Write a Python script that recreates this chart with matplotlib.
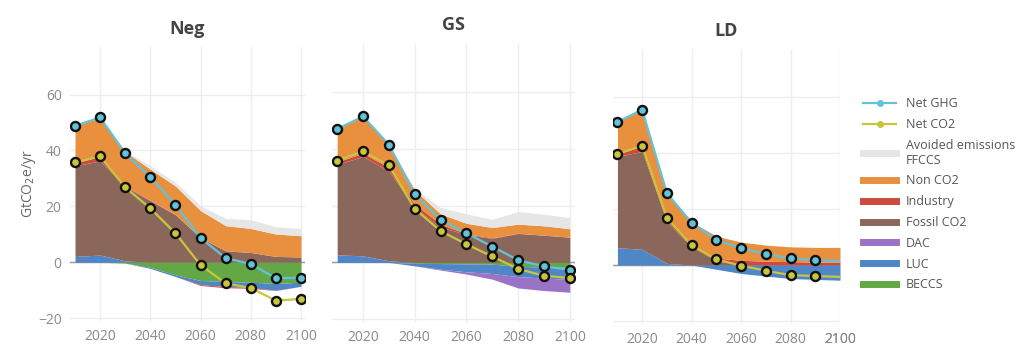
import numpy as np
import matplotlib.pyplot as plt
from matplotlib.lines import Line2D

plt.rcParams['font.family'] = ['Open Sans', 'DejaVu Sans']

years = [2010, 2020, 2030, 2040, 2050, 2060, 2070, 2080, 2090, 2100]
titles = ["Neg", "GS", "LD"]

# --- Neg scenario (GtCO2e/yr)
neg_luc = [2.1, 2.6, 0.5, -0.4, -0.6, -1.5, -1.8, -1.9, -2.4, -1.5]
neg_beccs = [0, 0, -0.3, -1.8, -4.5, -6.5, -6.9, -7.1, -7.6, -7.1]
neg_dac = [0, 0, 0, 0, 0, 0, 0, 0, 0, 0]
neg_fossil = [32.4, 33.7, 26.5, 22.0, 17.0, 8.8, 4.1, 3.5, 2.1, 1.9]
neg_industry = [1.2, 1.5, 0.3, 0.2, 0.1, -0.3, -0.4, -0.3, -0.1, 0]
neg_nonco2 = [13.1, 13.9, 12.2, 11.1, 10.2, 9.7, 9.0, 8.6, 8.0, 7.6]
neg_avoided = [0, 0, 0.3, 1.2, 1.3, 1.7, 2.6, 3.1, 2.6, 2.6]
neg_net_ghg = [48.8, 51.8, 39.0, 30.4, 20.6, 8.7, 1.5, -0.6, -5.7, -5.5]
neg_net_co2 = [35.7, 37.9, 26.8, 19.3, 10.4, -1.0, -7.5, -9.2, -13.7, -13.1]

# --- GS scenario
gs_luc = [2.7, 2.3, 0.6, -0.9, -2.0, -2.8, -3.3, -3.6, -3.9, -4.3]
gs_beccs = [0, 0, 0, -0.3, -0.4, -0.5, -0.6, -1.4, -1.6, -1.7]
gs_dac = [0, 0, 0, 0, -0.3, -0.8, -2.0, -4.0, -4.4, -4.5]
gs_fossil = [31.8, 35.1, 31.6, 19.3, 12.5, 9.8, 8.5, 10.2, 9.6, 8.9]
gs_industry = [1.0, 1.1, 1.3, 1.2, 1.0, 0.3, 0.2, 0.1, 0, 0]
gs_nonco2 = [11.5, 13.0, 8.0, 5.0, 3.6, 3.7, 3.6, 3.2, 3.3, 3.0]
gs_avoided = [0, 0, 0, 0.5, 2.3, 3.3, 2.9, 4.4, 4.1, 3.9]
gs_net_ghg = [47.0, 51.5, 41.5, 24.0, 15.0, 10.3, 5.6, 0.8, -1.4, -2.6]
gs_net_co2 = [35.9, 39.2, 34.2, 18.9, 11.1, 6.4, 2.1, -2.3, -4.7, -5.5]

# --- LD scenario
ld_luc = [6.2, 5.6, 0.6, 0, -1.5, -3.0, -3.9, -4.8, -5.1, -5.4]
ld_beccs = [0, 0, 0, 0, 0, 0, 0, 0, 0, 0]
ld_dac = [0, 0, 0, 0, 0, 0, 0, 0, 0, 0]
ld_fossil = [32.5, 34.9, 14.9, 6.5, 1.5, 0.2, 0, 0, 0, 0]
ld_industry = [0.9, 2.0, 1.2, 0.7, 1.0, 1.5, 1.4, 1.2, 1.1, 1.0]
ld_nonco2 = [11.4, 12.9, 8.9, 8.2, 7.8, 6.5, 5.7, 5.3, 5.2, 5.3]
ld_avoided = [0, 0, 0, 0, 0, 0, 0, 0, 0, 0]
ld_net_ghg = [51.0, 55.4, 25.6, 15.1, 8.9, 6.0, 3.9, 2.4, 1.8, 1.4]
ld_net_co2 = [39.6, 42.5, 16.7, 7.1, 2.0, -0.2, -2.0, -3.6, -3.9, -4.2]

colors = {
    "Avoided emissions\nFFCCS": "#e6e6e6",
    "Non CO2": "#e8903e",
    "Industry": "#cf4a3c",
    "Fossil CO2": "#8b665b",
    "DAC": "#9a72c6",
    "LUC": "#4f86c6",
    "BECCS": "#64a745",
}
ghg_color = "#62c3d8"
co2_color = "#c9c53e"

scenarios = [
    dict(luc=neg_luc, beccs=neg_beccs, dac=neg_dac, fossil=neg_fossil, industry=neg_industry,
         nonco2=neg_nonco2, avoided=neg_avoided, ghg=neg_net_ghg, co2=neg_net_co2),
    dict(luc=gs_luc, beccs=gs_beccs, dac=gs_dac, fossil=gs_fossil, industry=gs_industry,
         nonco2=gs_nonco2, avoided=gs_avoided, ghg=gs_net_ghg, co2=gs_net_co2),
    dict(luc=ld_luc, beccs=ld_beccs, dac=ld_dac, fossil=ld_fossil, industry=ld_industry,
         nonco2=ld_nonco2, avoided=ld_avoided, ghg=ld_net_ghg, co2=ld_net_co2),
]

W, H = 1024, 361
fig = plt.figure(figsize=(W / 100, H / 100), dpi=100)
boxes = [(70, 47, 305, 321), (332, 44, 575, 322), (613, 49, 840, 324)]
xlims = [(2008, 2101.6), (2008, 2102), (2008.2, 2097)]
title_pads = [9, 10, 9]

x = np.array(years)
for k, sc in enumerate(scenarios):
    l, t, r, b = boxes[k]
    ax = fig.add_axes([l / W, 1 - b / H, (r - l) / W, (b - t) / H])
    ax.set_axisbelow(True)

    pos_order = [("LUC", sc["luc"]), ("Fossil CO2", sc["fossil"]), ("Industry", sc["industry"]),
                 ("Non CO2", sc["nonco2"]), ("Avoided emissions\nFFCCS", sc["avoided"])]
    neg_order = [("BECCS", sc["beccs"]), ("LUC", sc["luc"]), ("Industry", sc["industry"]),
                 ("DAC", sc["dac"])]
    base = np.zeros(len(x))
    for name, vals in pos_order:
        v = np.clip(np.array(vals, float), 0, None)
        ax.fill_between(x, base, base + v, color=colors[name], lw=0, zorder=2)
        base = base + v
    base = np.zeros(len(x))
    for name, vals in neg_order:
        v = np.clip(np.array(vals, float), None, 0)
        ax.fill_between(x, base, base + v, color=colors[name], lw=0, zorder=2)
        base = base + v

    mk = list(range(9)) if k == 2 else None
    for vals, c in [(sc["ghg"], ghg_color), (sc["co2"], co2_color)]:
        ax.plot(x, vals, color=c, lw=1.6, marker="o", ms=6.5, mfc=c, mec="#111111",
                mew=1.7, markevery=mk, zorder=4)

    ax.axhline(0, color="#999999", lw=1, zorder=1)
    ax.set_xlim(*xlims[k])
    ax.set_ylim(-21, 77)
    ax.set_xticks([2020, 2040, 2060, 2080, 2100])
    ax.set_yticks([-20, 0, 20, 40, 60])
    ax.grid(True, color="#eeeeee", lw=1)
    for s in ax.spines.values():
        s.set_visible(False)
    ax.tick_params(length=0, labelsize=10, labelcolor="#8a8a8a", pad=6)
    if k == 0:
        ax.set_yticklabels(["\u221220", "0", "20", "40", "60"])
        ax.set_ylabel("GtCO$_2$e/yr", fontsize=10, color="#666666")
        ax.yaxis.set_label_coords(-0.135, 0.5)
    else:
        ax.set_yticklabels([])
    if k == 2:
        ax.annotate("2100", xy=(2100, 0), xycoords=("data", "axes fraction"),
                    xytext=(0, -6), textcoords="offset points", ha="center", va="top",
                    fontsize=10, color="#8a8a8a", annotation_clip=False)
    ax.set_title(titles[k], fontsize=13, fontweight="bold", color="#444444", pad=title_pads[k])

handles = [
    Line2D([], [], color=ghg_color, lw=1.6, marker="o", ms=4, mec=ghg_color),
    Line2D([], [], color=co2_color, lw=1.6, marker="o", ms=4, mec=co2_color),
]
labels = ["Net GHG", "Net CO2"]
for name in ["Avoided emissions\nFFCCS", "Non CO2", "Industry", "Fossil CO2", "DAC", "LUC", "BECCS"]:
    handles.append(Line2D([], [], color=colors[name], lw=5))
    labels.append(name)

fig.legend(handles, labels, loc="upper left", bbox_to_anchor=(852 / W, 1 - 86 / H),
           frameon=False, fontsize=9, labelcolor="#555555", handlelength=2.6,
           handletextpad=0.8, labelspacing=0.62)

fig.savefig("out.png", dpi=100)
